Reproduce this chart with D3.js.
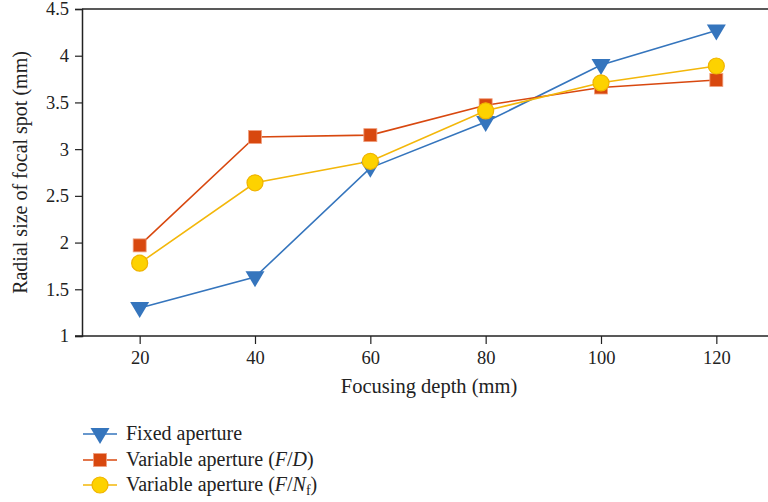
<!DOCTYPE html>
<html>
<head>
<meta charset="utf-8">
<script src="https://cdn.jsdelivr.net/npm/d3@7"></script>
<style>
  body { margin: 0; background: #fff; }
  svg { display: block; }
  text { font-family: 'Liberation Serif', 'DejaVu Serif', serif; fill: #222; }
</style>
</head>
<body>
<svg width="768" height="502"></svg>
<script>
const width = 768, height = 502

// data
const depths = [20, 40, 60, 80, 100, 120]
const fixedAperture = [1.30, 1.63, 2.80, 3.29, 3.90, 4.27]
const variableFD = [1.97, 3.13, 3.15, 3.47, 3.66, 3.74]
const variableFN = [1.78, 2.64, 2.87, 3.41, 3.71, 3.89]
const yTicks = [1, 1.5, 2, 2.5, 3, 3.5, 4, 4.5]

const series = [
    { key: 'fixed', values: fixedAperture, color: '#3575bd', fill: '#3575bd', stroke: 'none', shape: 'tri' },
    { key: 'fd', values: variableFD, color: '#d8480f', fill: '#d8480f', stroke: '#f0a080', shape: 'sq' },
    { key: 'fn', values: variableFN, color: '#f3b70a', fill: '#fdd200', stroke: '#f0b400', shape: 'circ' },
]

const margin = { left: 82, top: 9, right: 0, bottom: 336 }

const svg = d3.select('svg')

const x = d3.scalePoint()
    .domain(depths)
    .range([margin.left, width + 6])
    .padding(0.5)

const y = d3.scaleLinear()
    .domain([1, 4.5])
    .range([margin.bottom, margin.top])

// top frame line
svg.append('line')
    .attr('x1', margin.left).attr('x2', width)
    .attr('y1', y(4.5)).attr('y2', y(4.5))
    .attr('stroke', '#222').attr('stroke-width', 1.5)

// y axis
const yAxis = svg.append('g')
    .attr('transform', `translate(${margin.left},0)`)
    .call(d3.axisLeft(y).tickValues(yTicks).tickFormat(d3.format('')).tickSize(7).tickPadding(6))
yAxis.select('.domain').attr('stroke', '#222').attr('stroke-width', 1.5)
yAxis.selectAll('.tick line').attr('stroke', '#222').attr('stroke-width', 1.2)
yAxis.selectAll('.tick text')
    .style('font-size', '18.5px')
    .style('font-family', "'Liberation Serif', serif")
    .attr('fill', '#222')

// x axis
const xAxis = svg.append('g')
    .attr('transform', `translate(0,${margin.bottom})`)
    .call(d3.axisBottom(x).tickSize(8).tickPadding(7).tickSizeOuter(0))
xAxis.select('.domain').attr('stroke', '#222').attr('stroke-width', 1.5)
    .attr('d', `M${margin.left - 7},0H${width}`)
xAxis.selectAll('.tick line').attr('stroke', '#222').attr('stroke-width', 1.2)
xAxis.selectAll('.tick text')
    .style('font-size', '18.5px')
    .style('font-family', "'Liberation Serif', serif")
    .attr('fill', '#222')

// axis titles
svg.append('text')
    .attr('x', 429)
    .attr('y', 393)
    .attr('text-anchor', 'middle')
    .style('font-size', '20.5px')
    .text('Focusing depth (mm)')

svg.append('text')
    .attr('transform', `translate(27,${(margin.top + margin.bottom) / 2}) rotate(-90)`)
    .attr('text-anchor', 'middle')
    .style('font-size', '20px')
    .text('Radial size of focal spot (mm)')

// marker drawing
const triPath = 'M-9.5,-6 L9.5,-6 L0,10 Z'
function drawMarker(g, shape, fill, stroke) {
    if (shape === 'tri') {
        g.append('path').attr('d', triPath).attr('fill', fill)
    } else if (shape === 'sq') {
        g.append('rect')
            .attr('x', -6.5).attr('y', -6.5).attr('width', 13).attr('height', 13)
            .attr('fill', fill).attr('stroke', stroke).attr('stroke-width', 0.8)
    } else {
        g.append('circle').attr('r', 8)
            .attr('fill', fill).attr('stroke', stroke).attr('stroke-width', 1.2)
    }
}

const line = d3.line()
    .x((d, i) => x(depths[i]))
    .y(d => y(d))

series.forEach(s => {
    svg.append('path')
        .datum(s.values)
        .attr('d', line)
        .attr('fill', 'none')
        .attr('stroke', s.color)
        .attr('stroke-width', 1.6)
})

series.forEach(s => {
    s.values.forEach((v, i) => {
        const g = svg.append('g')
            .attr('transform', `translate(${x(depths[i])},${y(v)})`)
        drawMarker(g, s.shape, s.fill, s.stroke)
    })
})

// legend
const legendLabels = [
    ['Fixed aperture'],
    ['Variable aperture (', 'F', '/', 'D', ')'],
    ['Variable aperture (', 'F', '/', 'N', 'f', ')'],
]
const legendY = [434, 460, 485]

series.forEach((s, i) => {
    const ly = legendY[i]
    svg.append('line')
        .attr('x1', 83).attr('x2', 117)
        .attr('y1', ly).attr('y2', ly)
        .attr('stroke', s.color).attr('stroke-width', 1.6)
    const g = svg.append('g').attr('transform', `translate(100,${ly})`)
    drawMarker(g, s.shape, s.fill, s.stroke)

    const t = svg.append('text')
        .attr('x', 126)
        .attr('y', ly + 6)
        .style('font-size', '20px')
    const parts = legendLabels[i]
    parts.forEach((p, j) => {
        const ts = t.append('tspan').text(p)
        if (p === 'F' || p === 'D' || p === 'N') ts.style('font-style', 'italic')
        if (p === 'f') ts.style('font-size', '14px').attr('dy', 4)
        if (p === ')' && parts[j - 1] === 'f') ts.attr('dy', -4)
    })
})
</script>
</body>
</html>
